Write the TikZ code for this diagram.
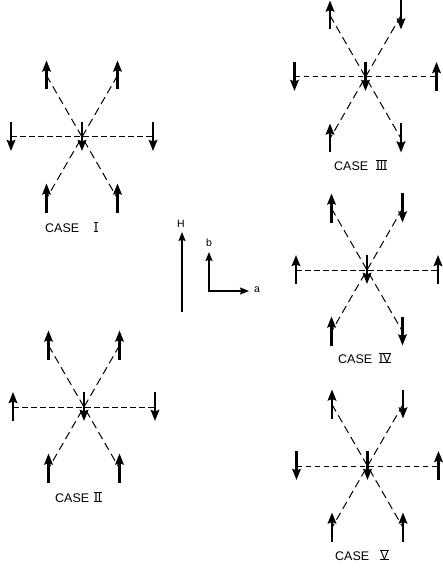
\documentclass[tikz,border=0pt]{standalone}
\usepackage{fontspec}
\setsansfont{Liberation Sans}
\usetikzlibrary{arrows.meta}

\tikzset{
  spin/.style={line width=2.3pt, -{Stealth[length=11pt,width=8.5pt,inset=1.5pt]}},
  hbond/.style={line width=1pt, dash pattern=on 5.5pt off 3.5pt},
  dbond/.style={line width=1pt, dash pattern=on 8pt off 4.5pt},
  spinup/.pic={\draw[spin] (0,14) -- (0,-15);},
  spindown/.pic={\draw[spin] (0,-15) -- (0,14);},
  caselabel/.style={font=\sffamily\fontsize{12.5}{14}\selectfont, inner sep=0pt, anchor=west},
  axislabel/.style={font=\sffamily\fontsize{10.5}{12}\selectfont, inner sep=0pt},
  axisline/.style={line width=1.6pt},
  axistip/.tip={Stealth[length=9pt,width=7pt,inset=1.4pt]},
}

% roman numeral with bars along its top and bottom
\newcommand\casenum[1]{\leavevmode\vbox{\hrule height 0.9pt\hbox{\kern0.2pt#1\kern0.2pt}\hrule height 0.9pt}}

% hexagonal cluster: #1 prefix, #2 centre, #3..#8 spins at UL UR L R LL LR (up/down)
\newcommand\spinhex[8]{%
  \begin{scope}[shift={#2}]
    \coordinate (#1c)  at (0,0);
    \coordinate (#1ul) at (-35.5,-61.5);
    \coordinate (#1ur) at (35.5,-61.5);
    \coordinate (#1l)  at (-71,0);
    \coordinate (#1r)  at (71,0);
    \coordinate (#1ll) at (-35.5,61.5);
    \coordinate (#1lr) at (35.5,61.5);
  \end{scope}
  \draw[hbond] (#1l) -- (#1r);
  \draw[dbond] (#1ul) -- (#1lr);
  \draw[dbond] (#1ur) -- (#1ll);
  \pic at (#1ul) {spin#3};
  \pic at (#1ur) {spin#4};
  \pic at (#1l)  {spin#5};
  \pic at (#1r)  {spin#6};
  \pic at (#1ll) {spin#7};
  \pic at (#1lr) {spin#8};
  \pic at (#1c)  {spindown};
}

\begin{document}
\begin{tikzpicture}[x=1pt, y=-1pt]
  \useasboundingbox (0,0) rectangle (443,569);

  % the five spin arrangements
  \spinhex{one}{(82,137)}{up}{up}{down}{down}{up}{up}
  \spinhex{two}{(84,407)}{up}{up}{up}{down}{up}{up}
  \spinhex{three}{(365.5,77)}{up}{down}{down}{up}{up}{down}
  \spinhex{four}{(367,270)}{up}{down}{up}{up}{up}{down}
  \spinhex{five}{(367.5,466)}{up}{down}{down}{up}{up}{up}

  \node[caselabel] (labone)   at (45,227)  {CASE\hspace{15pt}\casenum{I}};
  \node[caselabel] (labtwo)   at (55,497)  {CASE\hspace{5pt}\casenum{II}};
  \node[caselabel] (labthree) at (334,165) {CASE\hspace{8pt}\casenum{III}};
  \node[caselabel] (labfour)  at (338,358) {CASE\hspace{7pt}\casenum{IV}};
  \node[caselabel] (labfive)  at (335,555) {CASE\hspace{11pt}\casenum{V}};

  % field direction
  \coordinate (hbot) at (182,312);
  \coordinate (htop) at (182,232);
  \draw[axisline, -{axistip}] (hbot) -- (htop);
  \node[axislabel] (hlab) at (181,224) {H};

  % crystal axes
  \coordinate (origin) at (209,291);
  \coordinate (btip) at (209,252);
  \coordinate (atip) at (249,291);
  \draw[axisline, {axistip}-{axistip}] (btip) -- (origin) -- (atip);
  \node[axislabel] (blab) at (209,243) {b};
  \node[axislabel] (alab) at (257,290) {a};
\end{tikzpicture}
\end{document}
